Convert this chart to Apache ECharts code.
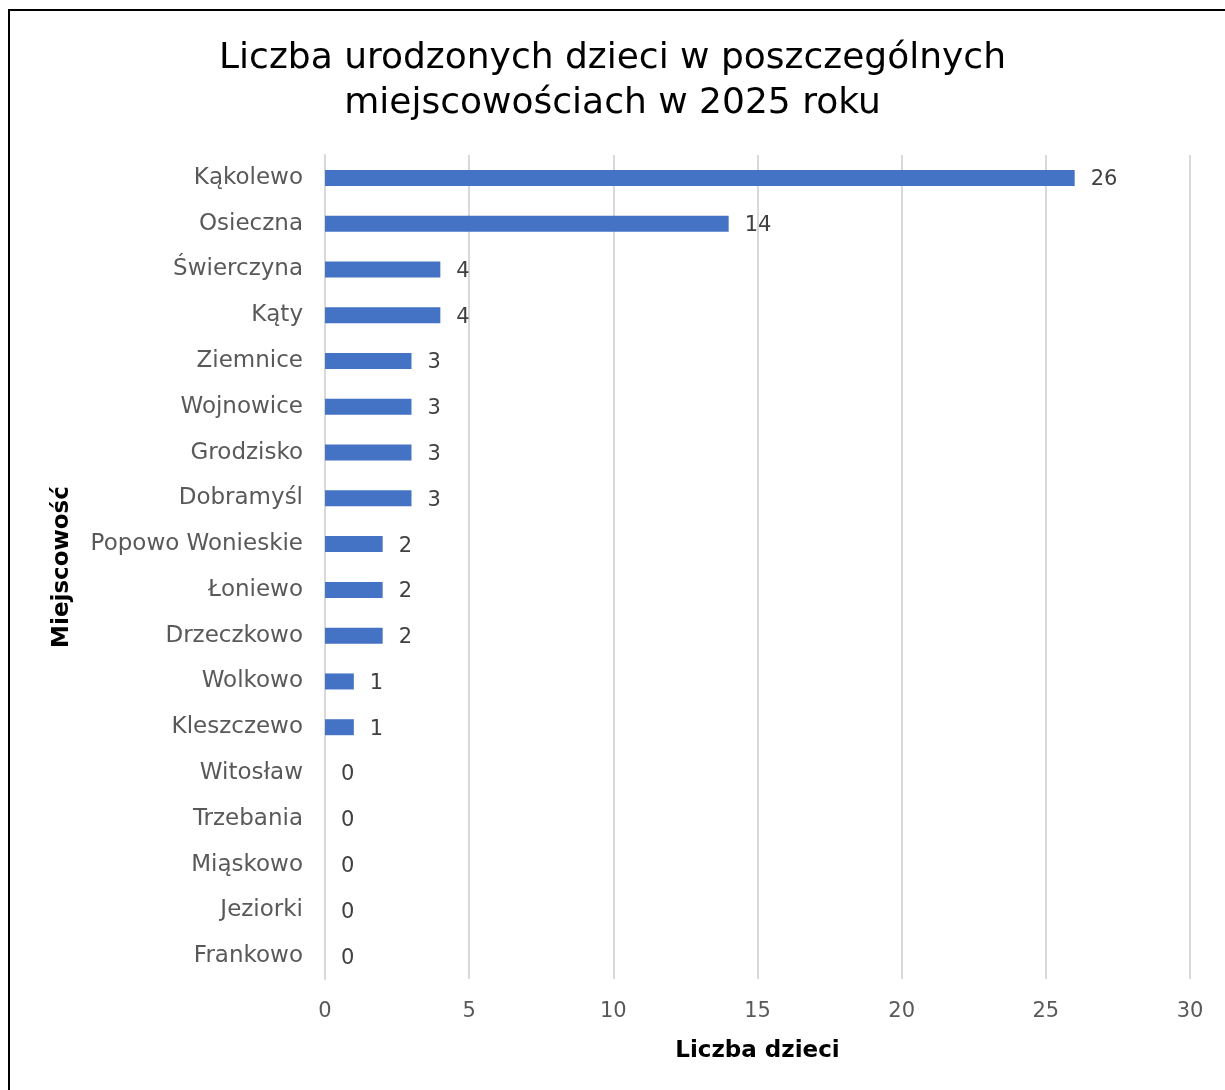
<!DOCTYPE html>
<html><head><meta charset="utf-8">
<script src="https://cdn.jsdelivr.net/npm/echarts@6/dist/echarts.min.js"></script>
<style>html,body{margin:0;padding:0;background:#fff;overflow:hidden}#c{width:1225px;height:1090px}</style>
</head><body><div id="c"></div>
<script>
const categories = ["Kąkolewo","Osieczna","Świerczyna","Kąty","Ziemnice","Wojnowice","Grodzisko","Dobramyśl","Popowo Wonieskie","Łoniewo","Drzeczkowo","Wolkowo","Kleszczewo","Witosław","Trzebania","Miąskowo","Jeziorki","Frankowo"];
const values = [26,14,4,4,3,3,3,3,2,2,2,1,1,0,0,0,0,0];
const titleText = "Liczba urodzonych dzieci w poszczególnych\nmiejscowościach w 2025 roku";
const xName = "Liczba dzieci";
const yName = "Miejscowość";
const FONT = "DejaVu Sans";
const chart = echarts.init(document.getElementById('c'));
chart.setOption({
  animation:false,
  graphic:[{type:'rect',shape:{x:9,y:10,width:1300,height:1200},style:{fill:'none',stroke:'#000',lineWidth:2},z:-1}],
  title:{text:titleText,left:'center',top:31,textStyle:{fontFamily:FONT,fontSize:36,fontWeight:'normal',color:'#000',lineHeight:45}},
  grid:{left:325,right:35,top:155,bottom:111,containLabel:false},
  xAxis:{type:'value',min:0,max:30,interval:5,name:xName,nameLocation:'middle',nameGap:61,nameMoveOverlap:false,
    nameTextStyle:{fontFamily:FONT,fontSize:23,fontWeight:'bold',color:'#000'},
    axisLine:{show:false},axisTick:{show:false},
    axisLabel:{fontFamily:FONT,fontSize:21,color:'#595959',margin:22},
    splitLine:{lineStyle:{color:'#d9d9d9',width:2}}},
  yAxis:{type:'category',data:categories,inverse:true,name:yName,nameLocation:'middle',nameGap:251,nameMoveOverlap:false,
    nameTextStyle:{fontFamily:FONT,fontSize:23,fontWeight:'bold',color:'#000'},
    axisLine:{lineStyle:{color:'#d9d9d9',width:2}},axisTick:{show:false},
    axisLabel:{fontFamily:FONT,fontSize:23,color:'#595959',margin:22,padding:[3,0,0,0]}},
  series:[{type:'bar',data:values,barWidth:16,itemStyle:{color:'#4472C4'},
    label:{show:true,position:'right',distance:16,offset:[0,2],fontFamily:FONT,fontSize:21,color:'#404040'}}]
});
</script></body></html>
